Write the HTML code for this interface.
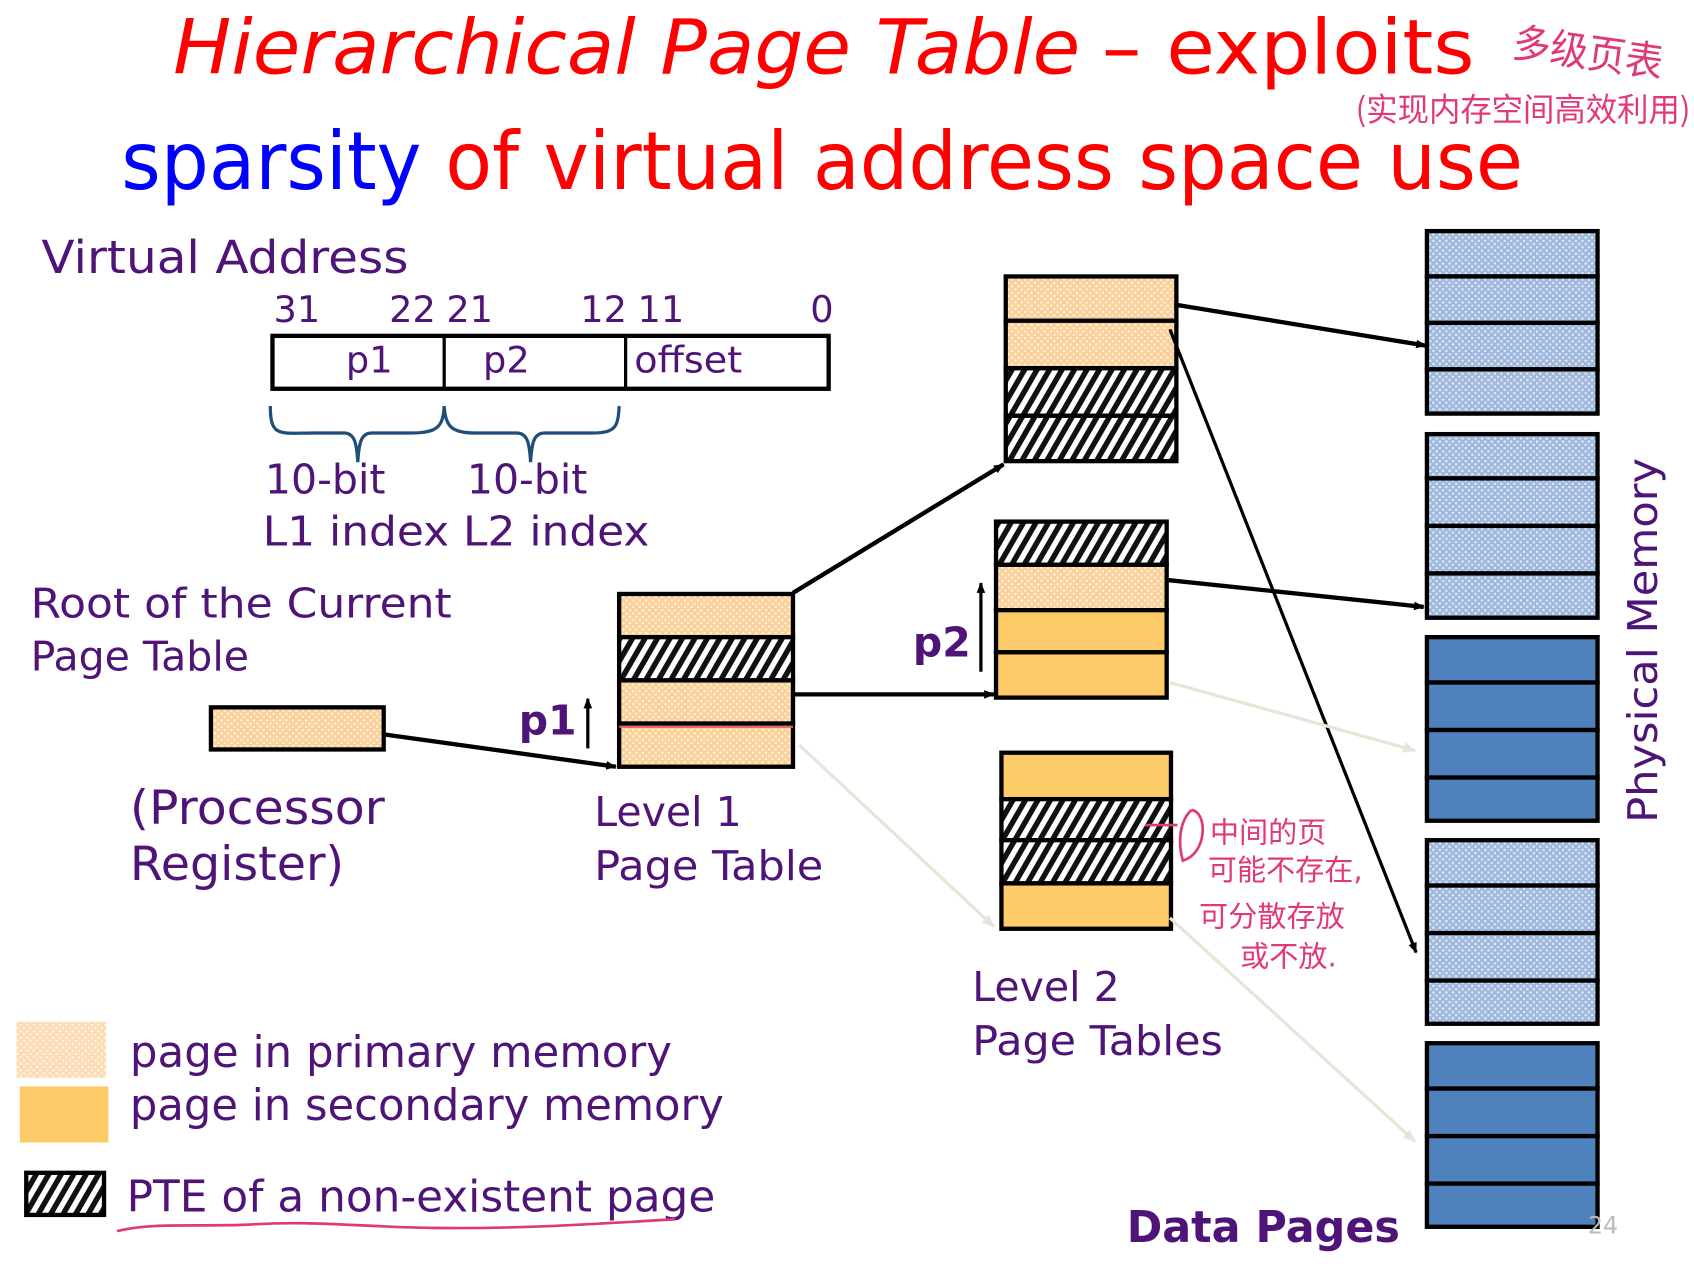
<!DOCTYPE html>
<html><head><meta charset="utf-8"><style>
html,body{margin:0;padding:0;background:#fff;}
svg{display:block;}
text{font-family:"DejaVu Sans","Liberation Sans",sans-serif;}
.pu{fill:#4f1478;}
.cj{font-family:"Noto Sans CJK SC","WenQuanYi Zen Hei",sans-serif;fill:#e0397a;}
</style></head><body>
<svg width="1694" height="1270" viewBox="0 0 1568 1176" xmlns="http://www.w3.org/2000/svg">
<defs>
<pattern id="pe" width="6" height="6" patternUnits="userSpaceOnUse"><rect width="6" height="6" fill="#fbd09a"/><rect x="0" y="0" width="2" height="2" fill="#fff2e0"/><rect x="3" y="3" width="2" height="2" fill="#fff2e0"/></pattern>
<pattern id="lb" width="6" height="6" patternUnits="userSpaceOnUse"><rect width="6" height="6" fill="#9fb9dd"/><rect x="0" y="0" width="2" height="2" fill="#e4ecf7"/><rect x="3" y="3" width="2" height="2" fill="#e4ecf7"/></pattern>
<pattern id="ha" width="10" height="10" patternUnits="userSpaceOnUse" patternTransform="rotate(30)"><rect width="10" height="10" fill="#fff"/><rect width="5" height="10" fill="#111"/></pattern>
<marker id="ar" markerWidth="10" markerHeight="10" refX="9" refY="5" orient="auto" markerUnits="userSpaceOnUse"><path d="M0,1 L10,5 L0,9 z" fill="#000"/></marker>
<marker id="ag" markerWidth="12" markerHeight="12" refX="11" refY="6" orient="auto" markerUnits="userSpaceOnUse"><path d="M0,1 L12,6 L0,11 z" fill="#e6e6d8"/></marker>
</defs>

<!-- title -->
<text x="160" y="68" font-size="70" font-style="italic" fill="#ff0000" textLength="840" lengthAdjust="spacingAndGlyphs">Hierarchical Page Table</text>
<text x="1020" y="68" font-size="70" fill="#ff0000" textLength="345" lengthAdjust="spacingAndGlyphs">– exploits</text>
<text x="1400" y="62" font-size="38" class="cj" textLength="140" lengthAdjust="spacingAndGlyphs" transform="rotate(8 1470 50)">多级页表</text>
<text x="1255" y="112" font-size="30" class="cj" textLength="310" lengthAdjust="spacingAndGlyphs">(实现内存空间高效利用)</text>
<text x="112" y="175" font-size="74" fill="#0000ff" textLength="278" lengthAdjust="spacingAndGlyphs">sparsity</text>
<text x="412" y="175" font-size="74" fill="#ff0000" textLength="998" lengthAdjust="spacingAndGlyphs">of virtual address space use</text>

<!-- virtual address -->
<text x="38" y="253" font-size="42" class="pu" textLength="340" lengthAdjust="spacingAndGlyphs">Virtual Address</text>
<g font-size="34" class="pu">
<text x="253" y="298">31</text><text x="360" y="298">22</text><text x="413" y="298">21</text>
<text x="537" y="298">12</text><text x="590" y="298">11</text><text x="750" y="298">0</text>
<text x="320" y="345">p1</text><text x="447" y="345">p2</text><text x="587" y="345" textLength="100" lengthAdjust="spacingAndGlyphs">offset</text>
</g>
<rect x="252" y="311" width="515" height="49" fill="none" stroke="#000" stroke-width="4"/>
<line x1="411" y1="311" x2="411" y2="360" stroke="#000" stroke-width="3"/>
<line x1="579" y1="311" x2="579" y2="360" stroke="#000" stroke-width="3"/>
<path d="M250,376 C250,405 258,401 290,401 L318,401 C328,401 330,410 331,428 C332,410 334,401 344,401 L380,401 C405,401 410,395 411,376 C412,395 418,401 440,401 L478,401 C488,401 490,410 491,428 C492,410 494,401 504,401 L548,401 C570,401 572,395 573,376" fill="none" stroke="#1f4e79" stroke-width="3"/>
<g font-size="38" class="pu">
<text x="245" y="457">10-bit</text><text x="432" y="457">10-bit</text>
<text x="243" y="505" textLength="358" lengthAdjust="spacingAndGlyphs">L1 index L2 index</text>
<text x="28" y="572" textLength="390" lengthAdjust="spacingAndGlyphs">Root of the Current</text>
<text x="28" y="621">Page Table</text>
<text x="550" y="765">Level 1</text>
<text x="550" y="815" textLength="212" lengthAdjust="spacingAndGlyphs">Page Table</text>
<text x="900" y="927">Level 2</text>
<text x="900" y="977" textLength="232" lengthAdjust="spacingAndGlyphs">Page Tables</text>
</g>
<g font-size="44" class="pu">
<text x="120" y="763" textLength="236" lengthAdjust="spacingAndGlyphs">(Processor</text>
<text x="120" y="815">Register)</text>
</g>

<!-- register -->
<rect x="195" y="655" width="160" height="39" fill="url(#pe)" stroke="#000" stroke-width="4"/>
<line x1="355" y1="680" x2="570" y2="710" stroke="#000" stroke-width="4" marker-end="url(#ar)"/>

<!-- L1 table -->
<g stroke="#000" stroke-width="4">
<rect x="573" y="550" width="161" height="40" fill="url(#pe)"/>
<rect x="573" y="590" width="161" height="40" fill="url(#ha)"/>
<rect x="573" y="630" width="161" height="40" fill="url(#pe)"/>
<rect x="573" y="670" width="161" height="40" fill="url(#pe)"/>
</g>
<line x1="573" y1="673" x2="734" y2="673" stroke="#e06060" stroke-width="2"/>
<text x="480" y="680" font-size="38" font-weight="bold" class="pu">p1</text>
<line x1="544" y1="693" x2="544" y2="647" stroke="#000" stroke-width="3" marker-end="url(#ar)"/>

<!-- L2 top -->
<g stroke="#000" stroke-width="4">
<rect x="931" y="256" width="158" height="41" fill="url(#pe)"/>
<rect x="931" y="297" width="158" height="44" fill="url(#pe)"/>
<rect x="931" y="341" width="158" height="44" fill="url(#ha)"/>
<rect x="931" y="385" width="158" height="42" fill="url(#ha)"/>
</g>
<!-- L2 mid -->
<g stroke="#000" stroke-width="4">
<rect x="922" y="483" width="158" height="40" fill="url(#ha)"/>
<rect x="922" y="523" width="158" height="42" fill="url(#pe)"/>
<rect x="922" y="565" width="158" height="39" fill="#fecb6a"/>
<rect x="922" y="604" width="158" height="42" fill="#fecb6a"/>
</g>
<text x="845" y="608" font-size="38" font-weight="bold" class="pu">p2</text>
<line x1="908" y1="622" x2="908" y2="540" stroke="#000" stroke-width="3" marker-end="url(#ar)"/>
<!-- L2 bottom -->
<g stroke="#000" stroke-width="4">
<rect x="927" y="697" width="157" height="43" fill="#fecb6a"/>
<rect x="927" y="740" width="157" height="38" fill="url(#ha)"/>
<rect x="927" y="778" width="157" height="40" fill="url(#ha)"/>
<rect x="927" y="818" width="157" height="42" fill="#fecb6a"/>
</g>

<!-- arrows -->
<line x1="734" y1="549" x2="929" y2="430" stroke="#000" stroke-width="4" marker-end="url(#ar)"/>
<line x1="734" y1="643" x2="920" y2="643" stroke="#000" stroke-width="4" marker-end="url(#ar)"/>
<line x1="740" y1="690" x2="920" y2="858" stroke="#e6e6d8" stroke-width="3" marker-end="url(#ag)"/>
<line x1="1087" y1="282" x2="1320" y2="320" stroke="#000" stroke-width="4" marker-end="url(#ar)"/>
<line x1="1083" y1="305" x2="1311" y2="882" stroke="#000" stroke-width="3" marker-end="url(#ar)"/>
<line x1="1080" y1="537" x2="1318" y2="562" stroke="#000" stroke-width="4" marker-end="url(#ar)"/>
<line x1="1083" y1="632" x2="1310" y2="695" stroke="#e6e6d8" stroke-width="3" marker-end="url(#ag)"/>
<line x1="1083" y1="850" x2="1310" y2="1057" stroke="#e6e6d8" stroke-width="3" marker-end="url(#ag)"/>

<!-- physical memory -->
<g stroke="#000" stroke-width="4">
<rect x="1321" y="214" width="158" height="42" fill="url(#lb)"/><rect x="1321" y="256" width="158" height="43" fill="url(#lb)"/><rect x="1321" y="299" width="158" height="43" fill="url(#lb)"/><rect x="1321" y="342" width="158" height="41" fill="url(#lb)"/>
<rect x="1321" y="402" width="158" height="41" fill="url(#lb)"/><rect x="1321" y="443" width="158" height="44" fill="url(#lb)"/><rect x="1321" y="487" width="158" height="44" fill="url(#lb)"/><rect x="1321" y="531" width="158" height="41" fill="url(#lb)"/>
<rect x="1321" y="590" width="158" height="42" fill="#4f81bd"/><rect x="1321" y="632" width="158" height="44" fill="#4f81bd"/><rect x="1321" y="676" width="158" height="44" fill="#4f81bd"/><rect x="1321" y="720" width="158" height="40" fill="#4f81bd"/>
<rect x="1321" y="778" width="158" height="42" fill="url(#lb)"/><rect x="1321" y="820" width="158" height="44" fill="url(#lb)"/><rect x="1321" y="864" width="158" height="44" fill="url(#lb)"/><rect x="1321" y="908" width="158" height="40" fill="url(#lb)"/>
<rect x="1321" y="966" width="158" height="42" fill="#4f81bd"/><rect x="1321" y="1008" width="158" height="44" fill="#4f81bd"/><rect x="1321" y="1052" width="158" height="44" fill="#4f81bd"/><rect x="1321" y="1096" width="158" height="40" fill="#4f81bd"/>
</g>
<text transform="translate(1534 762) rotate(-90)" font-size="38" class="pu" textLength="338" lengthAdjust="spacingAndGlyphs">Physical Memory</text>
<text x="1043" y="1150" font-size="40" font-weight="bold" class="pu" textLength="253" lengthAdjust="spacingAndGlyphs">Data Pages</text>
<text x="1470" y="1142" font-size="22" fill="#bbb">24</text>

<!-- annotation -->
<path d="M1060,764 L1090,764 M1103,750 C1118,752 1118,790 1095,797 C1090,780 1092,760 1103,750" fill="none" stroke="#e0397a" stroke-width="2.5"/>
<g font-size="27" class="cj">
<text x="1120" y="780">中间的页</text>
<text x="1118" y="815">可能不存在,</text>
<text x="1110" y="858">可分散存放</text>
<text x="1148" y="895">或不放.</text>
</g>

<!-- legend -->
<rect x="15" y="946" width="83" height="52" fill="url(#pe)" opacity="0.75"/>
<rect x="18" y="1006" width="82" height="52" fill="#fecb6a"/>
<rect x="24" y="1086" width="72" height="39" fill="url(#ha)" stroke="#000" stroke-width="4"/>
<g font-size="40" class="pu">
<text x="120" y="988" textLength="502" lengthAdjust="spacingAndGlyphs">page in primary memory</text>
<text x="120" y="1037" textLength="550" lengthAdjust="spacingAndGlyphs">page in secondary memory</text>
<text x="117" y="1122" textLength="545" lengthAdjust="spacingAndGlyphs">PTE of a non-existent page</text>
</g>
<path d="M108,1140 C140,1132 180,1136 230,1134 C290,1130 330,1136 400,1137 C480,1138 540,1134 625,1129" fill="none" stroke="#e0397a" stroke-width="2.5"/>
</svg>
</body></html>
